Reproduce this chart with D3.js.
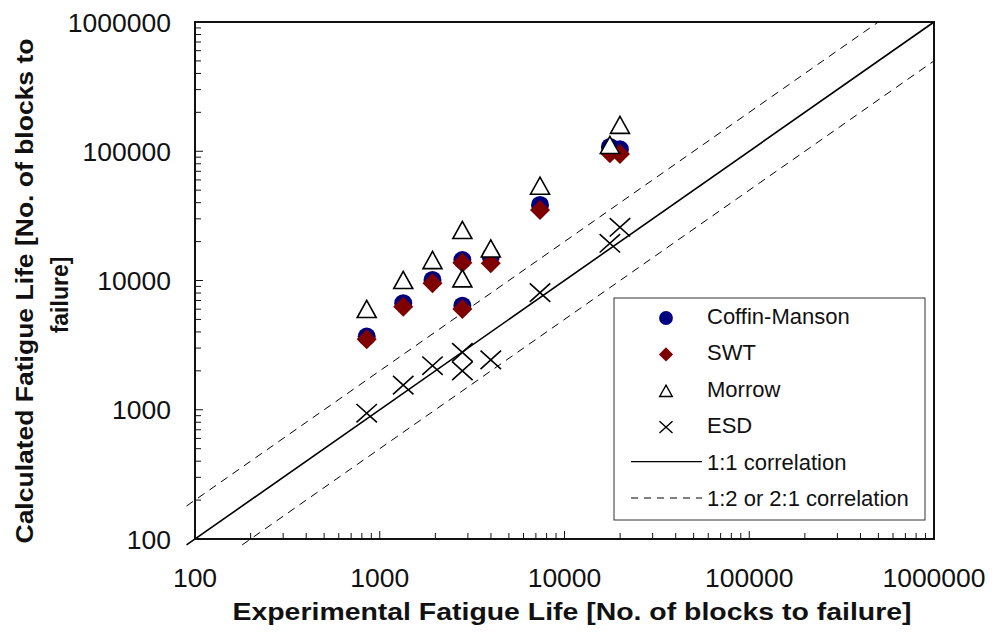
<!DOCTYPE html>
<html>
<head>
	<meta charset="UTF-8">
	<title>Calculated vs experimental fatigue life</title>
	<style>
		body {
			margin: 0;
			background: white;
			font-family: "Liberation Sans", Arial, sans-serif;
		}
		.tick-label { font-size: 26.5px; fill: #111; }
		.axis-title { font-size: 23px; font-weight: bold; fill: #111; }
		.legend-text { font-size: 22px; fill: #111; }
	</style>
</head>
<body>
<svg id="chart" width="995" height="641"></svg>

<script src="https://d3js.org/d3.v7.min.js"></script>
<script>

	// Data (blocks to failure)
	let expLife      = [850, 1340, 1930, 2800, 2800, 3990, 7370, 17600, 19960];
	let coffinManson = [3680, 6670, 10100, 14400, 6380, 15300, 38400, 108000, 103500];
	let swt          = [3510, 6270, 9510, 13700, 6020, 13600, 35100, 96400, 95200];
	let morrow       = [6020, 10100, 14400, 24600, 10400, 17700, 54200, 112000, 160000];
	let esd          = [940, 1550, 2190, 2780, 2000, 2430, 8050, 19400, 25800];

	let tickValues = [100, 1000, 10000, 100000, 1000000];
	let legendLabels = ["Coffin-Manson", "SWT", "Morrow", "ESD", "1:1 correlation", "1:2 or 2:1 correlation"];

	let svg = d3.select("#chart");

	let x = d3.scaleLog().domain([100, 1000000]).range([195, 934]);
	let y = d3.scaleLog().domain([100, 1000000]).range([539, 22]);

	// minor + major tick values for the log axes
	let allTicks = [];
	for (let p = 2; p < 6; p++) {
		for (let m = 1; m < 10; m++) allTicks.push(m * Math.pow(10, p));
	}
	allTicks.push(1000000);

	// ticks inside the plot
	let tickG = svg.append("g").attr("stroke", "#111").attr("stroke-width", 1);
	tickG.selectAll(".xt").data(allTicks).enter().append("line")
		.attr("x1", d => x(d)).attr("x2", d => x(d))
		.attr("y1", 539).attr("y2", d => 539 - (tickValues.includes(d) ? 8 : 6));
	tickG.selectAll(".yt").data(allTicks).enter().append("line")
		.attr("y1", d => y(d)).attr("y2", d => y(d))
		.attr("x1", 195).attr("x2", d => 195 + (tickValues.includes(d) ? 8 : 6));

	// correlation lines
	let lineG = svg.append("g").attr("fill", "none").attr("stroke", "#000");
	lineG.append("line")
		.attr("x1", x(90)).attr("y1", y(90))
		.attr("x2", x(1000000)).attr("y2", y(1000000))
		.attr("stroke-width", 1.6);
	lineG.append("line")
		.attr("x1", x(90)).attr("y1", y(180))
		.attr("x2", x(500000)).attr("y2", y(1000000))
		.attr("stroke-width", 1)
		.attr("stroke-dasharray", "8,6");
	lineG.append("line")
		.attr("x1", x(180)).attr("y1", y(90))
		.attr("x2", x(1000000)).attr("y2", y(500000))
		.attr("stroke-width", 1)
		.attr("stroke-dasharray", "8,6");

	// plot frame
	svg.append("rect")
		.attr("x", 195).attr("y", 22)
		.attr("width", 934 - 195).attr("height", 539 - 22)
		.attr("fill", "none").attr("stroke", "#111").attr("stroke-width", 2);

	// tick labels
	svg.append("g").selectAll("text").data(tickValues).enter().append("text")
		.attr("class", "tick-label")
		.attr("x", d => x(d)).attr("y", 587)
		.attr("text-anchor", "middle")
		.text(d => d);
	svg.append("g").selectAll("text").data(tickValues).enter().append("text")
		.attr("class", "tick-label")
		.attr("x", 171).attr("y", d => y(d) + 9.5)
		.attr("text-anchor", "end")
		.text(d => d);

	// axis titles
	svg.append("text")
		.attr("class", "axis-title")
		.attr("x", 572).attr("y", 620)
		.attr("text-anchor", "middle")
		.attr("textLength", 679)
		.attr("lengthAdjust", "spacingAndGlyphs")
		.text("Experimental Fatigue Life [No. of blocks to failure]");
	let yTitle = svg.append("text")
		.attr("class", "axis-title")
		.attr("text-anchor", "middle")
		.attr("transform", "translate(33,291) rotate(-90)");
	yTitle.append("tspan").attr("x", 0).attr("y", 0)
		.attr("textLength", 505)
		.attr("lengthAdjust", "spacingAndGlyphs")
		.text("Calculated Fatigue Life [No. of blocks to");
	yTitle.append("tspan").attr("x", -4).attr("y", 35).text("failure]");

	// symbols
	let crossType = {
		draw: function(ctx, size) {
			let r = Math.sqrt(size) / 2;
			ctx.moveTo(-r, -r * 0.9); ctx.lineTo(r, r * 0.9);
			ctx.moveTo(r, -r * 0.9); ctx.lineTo(-r, r * 0.9);
		}
	};
	let diamondType = {
		draw: function(ctx, size) {
			let r = Math.sqrt(size) / 2;
			ctx.moveTo(0, -r); ctx.lineTo(r, 0); ctx.lineTo(0, r); ctx.lineTo(-r, 0); ctx.closePath();
		}
	};
	let triType = {
		draw: function(ctx, size) {
			let w = Math.sqrt(size) / 2;
			let h = w * 0.9;
			ctx.moveTo(0, -h); ctx.lineTo(w, h); ctx.lineTo(-w, h); ctx.closePath();
		}
	};

	let series = [
		{ name: "Coffin-Manson", values: coffinManson, type: d3.symbolCircle, size: 254, legendSize: 150, fill: "#00007f", stroke: "none" },
		{ name: "SWT", values: swt, type: diamondType, size: 400, legendSize: 200, fill: "#7f0000", stroke: "none" },
		{ name: "Morrow", values: morrow, type: triType, size: 361, legendSize: 160, fill: "white", stroke: "#000" },
		{ name: "ESD", values: esd, type: crossType, size: 420, legendSize: 170, fill: "none", stroke: "#000" }
	];

	let pointsG = svg.append("g");
	series.forEach(s => {
		pointsG.append("g").selectAll("path")
			.data(s.values.map((v, i) => [expLife[i], v]))
			.enter().append("path")
			.attr("transform", d => "translate(" + x(d[0]) + "," + y(d[1]) + ")")
			.attr("d", d3.symbol().type(s.type).size(s.size))
			.attr("fill", s.fill)
			.attr("stroke", s.stroke)
			.attr("stroke-width", 1.6);
	});

	// legend
	let legend = svg.append("g");
	legend.append("rect")
		.attr("x", 614).attr("y", 298)
		.attr("width", 925 - 614).attr("height", 520 - 298)
		.attr("fill", "white").attr("stroke", "#333").attr("stroke-width", 1);

	let rowY = d => 316 + d * 36.4;
	series.forEach((s, i) => {
		legend.append("path")
			.attr("transform", "translate(666," + (rowY(i) + 2) + ")")
			.attr("d", d3.symbol().type(s.type).size(s.legendSize))
			.attr("fill", s.fill)
			.attr("stroke", s.stroke)
			.attr("stroke-width", 1.4);
	});
	legend.append("line")
		.attr("x1", 631).attr("x2", 702)
		.attr("y1", rowY(4)).attr("y2", rowY(4))
		.attr("stroke", "#000").attr("stroke-width", 1.4);
	legend.append("line")
		.attr("x1", 631).attr("x2", 702)
		.attr("y1", rowY(5)).attr("y2", rowY(5))
		.attr("stroke", "#000").attr("stroke-width", 1)
		.attr("stroke-dasharray", "7,6");
	legend.selectAll(".lt").data(legendLabels).enter().append("text")
		.attr("class", "legend-text")
		.attr("x", 707).attr("y", (d, i) => rowY(i) + 8)
		.text(d => d);

</script>
</body>
</html>
